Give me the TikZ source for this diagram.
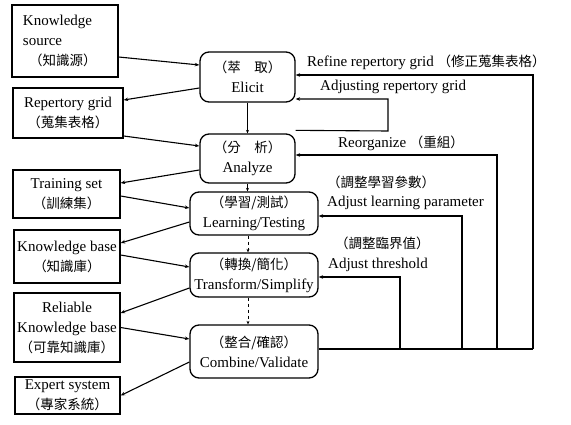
\documentclass[tikz,border=0pt]{standalone}
\usepackage{fontspec}
\setmainfont{Liberation Serif}
\newfontfamily\cjk{Noto Sans CJK TC}
\usetikzlibrary{arrows.meta}
\newcommand\zh[1]{{\cjk\fontsize{13.5}{20}\selectfont #1}}
\begin{document}
\begin{tikzpicture}[x=1pt,y=-1pt,
  lbox/.style={draw, line width=1.3pt, inner sep=0pt, align=center, font=\fontsize{15}{20}\selectfont},
  rbox/.style={lbox, rounded corners=9pt},
  conn/.style={line width=1.1pt, -{Stealth[length=4.5pt,width=3.5pt]}},
  vconn/.style={line width=0.8pt, -{Stealth[length=3.5pt,width=3pt]}},
  fline/.style={line width=1.1pt},
  lab/.style={anchor=west, inner sep=0pt, font=\fontsize{15}{18}\selectfont},
]
\useasboundingbox (0,0) rectangle (571,425);

% left boxes
\node[lbox, minimum width=106pt, minimum height=72pt, text width=84pt, align=left] (ks) at (65,41) {Knowledge\\source\\\hspace*{6pt}\zh{（知識源）}};
\node[lbox, minimum width=110pt, minimum height=50pt] (rg) at (68,113) {Repertory grid\\\zh{（蒐集表格）}};
\node[lbox, minimum width=107pt, minimum height=48pt] (ts) at (66.5,194) {Training set\\\zh{（訓練集）}};
\node[lbox, minimum width=106pt, minimum height=53pt] (kb) at (67,256.5) {Knowledge base\\\zh{（知識庫）}};
\node[lbox, minimum width=106pt, minimum height=69pt] (rkb) at (67,327.5) {Reliable\\Knowledge base\\\zh{（可靠知識庫）}};
\node[lbox, minimum width=105pt, minimum height=37pt] (es) at (67.5,395.5) {Expert system\\\zh{（專家系統）}};

% process boxes
\node[rbox, minimum width=95pt, minimum height=50pt] (el) at (247.5,77) {\zh{（萃　取）}\\Elicit};
\node[rbox, minimum width=95pt, minimum height=49pt] (an) at (247.5,158.5) {\zh{（分　析）}\\Analyze};
\node[rbox, minimum width=128pt, minimum height=43pt] (lt) at (254,213.5) {\zh{（學習/測試）}\\Learning/Testing};
\node[rbox, minimum width=128pt, minimum height=44pt] (tr) at (254,275) {\zh{（轉換/簡化）}\\Transform/Simplify};
\node[rbox, minimum width=128pt, minimum height=53pt] (cv) at (254,351.5) {\zh{（整合/確認）}\\Combine/Validate};

% left connectors
\draw[conn] ([yshift=-16pt]ks.east) -- ([yshift=12pt]el.west);
\draw[conn] ([yshift=-11pt]el.west) -- ([yshift=13pt]rg.east);
\draw[conn] ([yshift=-23pt]rg.east) -- ([yshift=12.5pt]an.west);
\draw[conn] ([yshift=-11.5pt]an.west) -- ([yshift=11pt]ts.east);
\draw[conn] ([yshift=-2pt]ts.east) -- ([yshift=5.5pt]lt.west);
\draw[conn] ([yshift=-8.5pt]lt.west) -- ([yshift=13.5pt]kb.east);
\draw[conn] ([yshift=1.5pt]kb.east) -- ([yshift=8pt]tr.west);
\draw[conn] ([yshift=-13pt]tr.west) -- ([yshift=14.5pt]rkb.east);
\draw[conn] (rkb.east) -- ([yshift=12.5pt]cv.west);
\draw[conn] ([yshift=-10.5pt]cv.west) -- (es.east);

% vertical flow
\draw[vconn] (el.south) -- (an.north);
\draw[vconn] (an.south) -- ([xshift=-6.5pt]lt.north);
\draw[vconn, dashed] ([xshift=-6pt]lt.south) -- ([xshift=-6pt]tr.north);
\draw[vconn, dashed] ([xshift=-6pt]tr.south) -- ([xshift=-6pt]cv.north);

% feedback loops
\coordinate (b1) at (533,349);
\coordinate (b2) at (497,349);
\coordinate (b3) at (462,349);
\coordinate (b4) at (400,349);
\coordinate (k1) at (388,131);
\draw[fline] ([yshift=2.5pt]cv.east) -- (b1);
\draw[conn] (b1) |- ([yshift=2pt]el.east);
\draw[conn] (b2) |- ([yshift=3.5pt]an.east);
\draw[conn] (b3) |- ([yshift=-2.5pt]lt.east);
\draw[conn] (b4) |- ([yshift=-2pt]tr.east);
\draw[conn] ([yshift=3pt]an.north east) -- (k1) |- ([yshift=-22pt]el.east);

% labels
\node[lab] (l1) at (307,62) {Refine repertory grid \zh{（修正蒐集表格）}};
\node[lab] (l2) at (320,87) {Adjusting repertory grid};
\node[lab] (l3) at (338,143) {Reorganize \zh{（重組）}};
\node[lab] (l4) at (327,182) {\zh{（調整學習參數）}};
\node[lab] (l5) at (327,203) {Adjust learning parameter};
\node[lab] (l6) at (335,243) {\zh{（調整臨界值）}};
\node[lab] (l7) at (328,265) {Adjust threshold};
\end{tikzpicture}
\end{document}
